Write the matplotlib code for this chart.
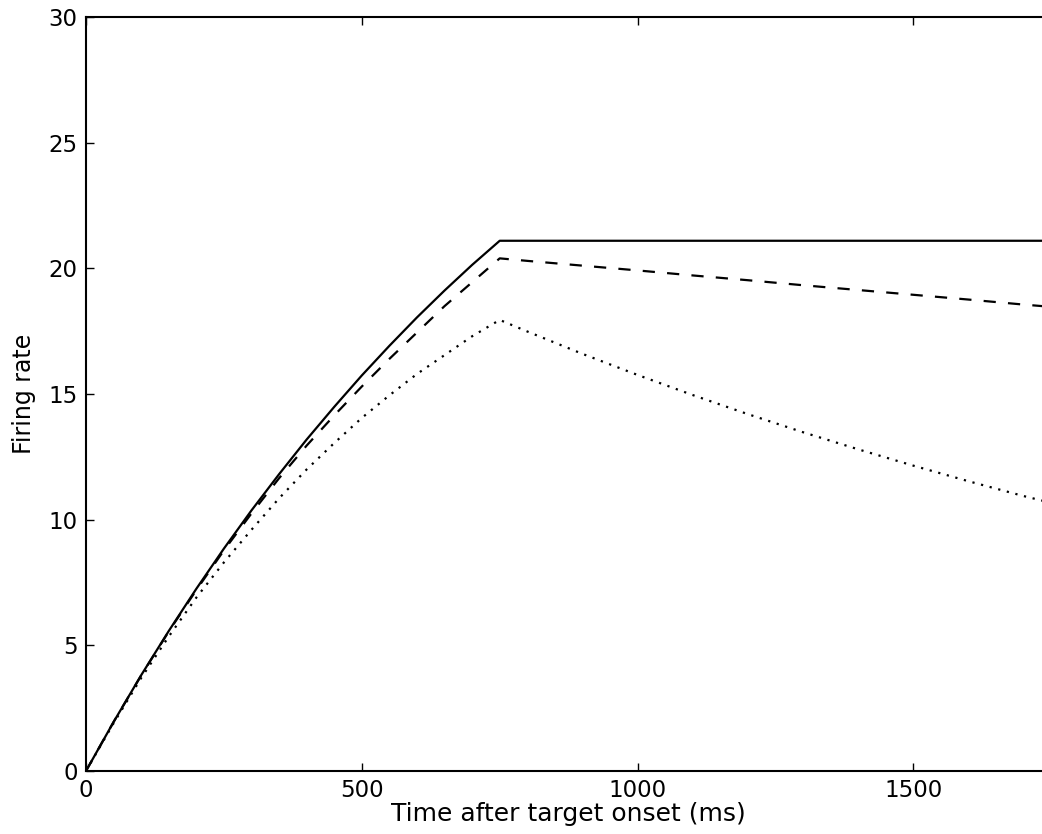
import matplotlib
matplotlib.use("Agg")
import matplotlib.pyplot as plt

# time after target onset (ms)
t_rise = [0, 50, 100, 150, 200, 250, 300, 350, 400, 450, 500, 550, 600, 650, 700, 750]
t_fall = [750, 800, 900, 1000, 1100, 1200, 1300, 1400, 1500, 1600, 1700, 1750]

solid_rise = [0, 1.95, 3.81, 5.57, 7.25, 8.85, 10.37, 11.81, 13.19, 14.49,
              15.74, 16.92, 18.05, 19.12, 20.14, 21.1]
solid_fall = [21.1, 21.1, 21.1, 21.1, 21.1, 21.1, 21.1, 21.1, 21.1, 21.1,
              21.1, 21.1]

dashed_rise = [0, 1.95, 3.8, 5.55, 7.2, 8.78, 10.25, 11.65, 12.95, 14.15,
               15.3, 16.4, 17.45, 18.5, 19.45, 20.4]
dashed_fall = [20.4, 20.3, 20.11, 19.92, 19.72, 19.53, 19.33, 19.14, 18.95,
               18.76, 18.56, 18.47]

dotted_rise = [0, 1.9, 3.7, 5.35, 6.9, 8.3, 9.6, 10.85, 12.0, 13.05,
               14.05, 14.95, 15.8, 16.55, 17.3, 17.95]
dotted_fall = [17.95, 17.49, 16.6, 15.76, 14.96, 14.2, 13.48, 12.8, 12.15,
               11.53, 10.94, 10.67]

x_ticks = [0, 500, 1000, 1500]
y_ticks = [0, 5, 10, 15, 20, 25, 30]

fig = plt.figure(figsize=(10.42, 8.34), dpi=100)
# the right spine sits just past the figure edge, as in the cropped original
ax = fig.add_axes([0.0825, 0.0755, 0.9265, 0.904])

t = t_rise + t_fall[1:]
ax.plot(t, solid_rise + solid_fall[1:], color="black", linewidth=1.6, linestyle="-")
ax.plot(t, dashed_rise + dashed_fall[1:], color="black", linewidth=1.6,
        linestyle=(0, (5.5, 5.5)))
ax.plot(t, dotted_rise + dotted_fall[1:], color="black", linewidth=1.6,
        linestyle=(0, (1, 3)))

ax.set_xlim(0, 1750)
ax.set_ylim(0, 30)
ax.set_xticks(x_ticks)
ax.set_yticks(y_ticks)
ax.tick_params(direction="in", length=6, width=1, top=True, right=True,
               labelsize=16.5, pad=6)
for s in ax.spines.values():
    s.set_linewidth(1.5)

ax.set_xlabel("Time after target onset (ms)", fontsize=18, labelpad=0)
ax.set_ylabel("Firing rate", fontsize=17, labelpad=9)

fig.savefig("out.png", dpi=100)
